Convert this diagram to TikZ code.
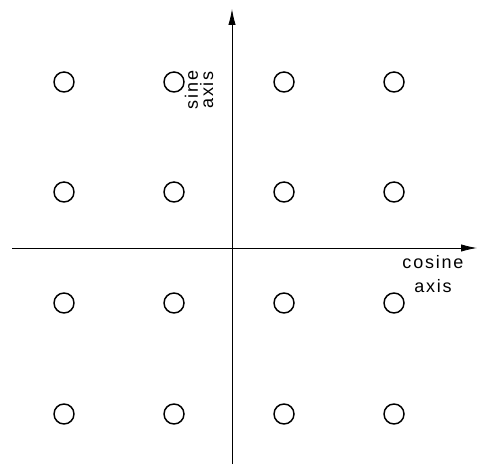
\documentclass[tikz,border=0pt]{standalone}
\usepackage{fontspec}
\setmainfont{Liberation Sans}[LetterSpace=10]
\usetikzlibrary{arrows.meta}

\tikzset{
  pt/.style={circle, draw, line width=1.1pt, minimum size=15pt, inner sep=0pt},
  axis/.style={-{Latex[length=12pt, width=5.5pt]}, line width=0.6pt},
  lbl/.style={font=\fontsize{13.5}{18}\selectfont, align=center, inner sep=0pt}
}

\begin{document}
\begin{tikzpicture}[x=0.75pt, y=-0.75pt]
\useasboundingbox (0,0) rectangle (478,466);

\coordinate (xl) at (12, 248);
\coordinate (xr) at (477, 248);
\coordinate (yb) at (232, 464);
\coordinate (yt) at (232, 9);

\draw[axis] (xl) -- (xr);
\draw[axis] (yb) -- (yt);

\node (p11) at (64, 82) [pt] {};
\node (p12) at (174, 82) [pt] {};
\node (p13) at (284, 82) [pt] {};
\node (p14) at (394, 82) [pt] {};

\node (p21) at (64, 192) [pt] {};
\node (p22) at (174, 192) [pt] {};
\node (p23) at (284, 192) [pt] {};
\node (p24) at (394, 192) [pt] {};

\node (p31) at (64, 303) [pt] {};
\node (p32) at (174, 303) [pt] {};
\node (p33) at (284, 303) [pt] {};
\node (p34) at (394, 303) [pt] {};

\node (p41) at (64, 414) [pt] {};
\node (p42) at (174, 414) [pt] {};
\node (p43) at (284, 414) [pt] {};
\node (p44) at (394, 414) [pt] {};

\node (sin) at (199, 90) [lbl, rotate=90, font=\fontsize{13.5}{11.5}\selectfont] {sine\\axis};
\node (cos) at (433, 274) [lbl] {cosine\\axis};
\end{tikzpicture}
\end{document}
